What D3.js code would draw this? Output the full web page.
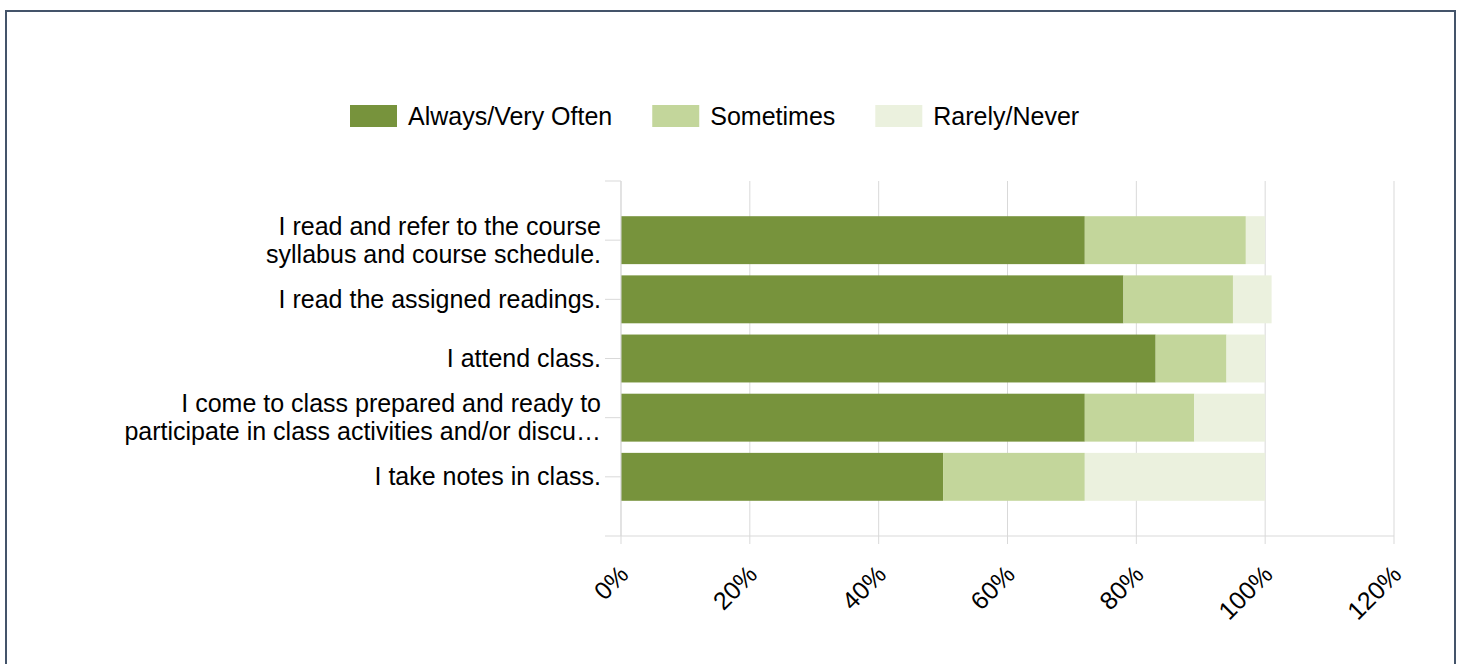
<!DOCTYPE html>
<html>
<head>
<meta charset="utf-8">
<script src="https://cdn.jsdelivr.net/npm/d3@7"></script>
<style>
  body { margin: 0; background: #fff; }
  svg { display: block; font-family: "Liberation Sans", Arial, sans-serif; }
</style>
</head>
<body>
<div id="chart"></div>
<script>
// categories (top to bottom), each label split into its lines
var categories = [
    ["I read and refer to the course", "syllabus and course schedule."],
    ["I read the assigned readings."],
    ["I attend class."],
    ["I come to class prepared and ready to", "participate in class activities and/or discu\u2026"],
    ["I take notes in class."]
];

// series values in percent
var seriesNames = ["Always/Very Often", "Sometimes", "Rarely/Never"];
var always = [72, 78, 83, 72, 50];
var sometimes = [25, 17, 11, 17, 22];
var rarely = [3, 6, 6, 11, 28];

// x tick values
var xTicks = [0, 20, 40, 60, 80, 100, 120];

var w = 1463;
var h = 664;
var margin = {top: 181, right: 69, bottom: 128, left: 621};
var fontSize = "25px";

var colors = ["#77933c", "#c3d69b", "#ebf1de"];
var gridColor = "#d9d9d9";

var rows = categories.map(function(c, i) {
    return {key: i, label: c, always: always[i], sometimes: sometimes[i], rarely: rarely[i]};
});

var stack = d3.stack().keys(["always", "sometimes", "rarely"]);
var layers = stack(rows);

var x = d3.scaleLinear()
    .domain([0, 120])
    .range([margin.left, w - margin.right]);

var y = d3.scaleBand()
    .domain(d3.range(categories.length))
    .range([margin.top, h - margin.bottom])
    .paddingInner(0.19)
    .paddingOuter(0.595);

var svg = d3.select("#chart")
    .append("svg")
    .attr("width", w)
    .attr("height", h);

//Frame
svg.append("rect")
    .attr("x", 6)
    .attr("y", 11)
    .attr("width", 1449)
    .attr("height", 720)
    .attr("fill", "none")
    .attr("stroke", "#44546a")
    .attr("stroke-width", 2);

//Vertical gridlines
svg.append("g")
    .selectAll("line")
    .data(xTicks)
    .join("line")
    .attr("x1", d => x(d))
    .attr("x2", d => x(d))
    .attr("y1", margin.top)
    .attr("y2", h - margin.bottom + 8)
    .attr("stroke", gridColor)
    .attr("stroke-width", 1);

//Bars
svg.append("g")
    .selectAll("g")
    .data(layers)
    .join("g")
    .attr("fill", (d, i) => colors[i])
    .selectAll("rect")
    .data(d => d)
    .join("rect")
    .attr("x", d => x(d[0]))
    .attr("y", d => y(d.data.key))
    .attr("width", d => x(d[1]) - x(d[0]))
    .attr("height", y.bandwidth());

//Axis lines
var yr = y.range();
svg.append("line")
    .attr("x1", x(0)).attr("x2", x(0))
    .attr("y1", yr[0]).attr("y2", yr[1])
    .attr("stroke", gridColor);

svg.append("line")
    .attr("x1", x(0) - 16).attr("x2", x(120))
    .attr("y1", yr[1]).attr("y2", yr[1])
    .attr("stroke", gridColor);

//Y ticks: top of axis and category centres
var yTickPos = [yr[0]].concat(d3.range(categories.length).map(i => y(i) + y.bandwidth() / 2));
svg.append("g")
    .selectAll("line")
    .data(yTickPos)
    .join("line")
    .attr("x1", x(0) - 16)
    .attr("x2", x(0))
    .attr("y1", d => d)
    .attr("y2", d => d)
    .attr("stroke", gridColor);

//Y labels
var lineH = 28;
svg.append("g")
    .selectAll("text")
    .data(rows)
    .join("text")
    .attr("x", x(0) - 20)
    .attr("y", d => y(d.key) + y.bandwidth() / 2)
    .attr("text-anchor", "end")
    .attr("font-size", fontSize)
    .attr("fill", "#000")
    .each(function(d) {
        var t = d3.select(this);
        var n = d.label.length;
        d.label.forEach(function(line, j) {
            t.append("tspan")
                .attr("x", x(0) - 20)
                .attr("dy", j === 0 ? ((-(n - 1) * lineH / 2) + 8.5) + "px" : lineH + "px")
                .text(line);
        });
    });

//X labels
svg.append("g")
    .selectAll("text")
    .data(xTicks)
    .join("text")
    .attr("transform", d => "translate(" + (x(d) + 9) + "," + (yr[1] + 40) + ") rotate(-45)")
    .attr("text-anchor", "end")
    .attr("font-size", fontSize)
    .attr("fill", "#000")
    .text(d => d + "%");

//Legend
var legend = svg.append("g").attr("transform", "translate(350,105)");
var lx = 0;
seriesNames.forEach(function(name, i) {
    legend.append("rect")
        .attr("x", lx)
        .attr("y", 0)
        .attr("width", 47)
        .attr("height", 22)
        .attr("fill", colors[i]);
    var t = legend.append("text")
        .attr("x", lx + 58)
        .attr("y", 11)
        .attr("dy", "0.36em")
        .attr("font-size", fontSize)
        .attr("fill", "#000")
        .text(name);
    lx += 58 + t.node().getComputedTextLength() + 40;
});
</script>
</body>
</html>
